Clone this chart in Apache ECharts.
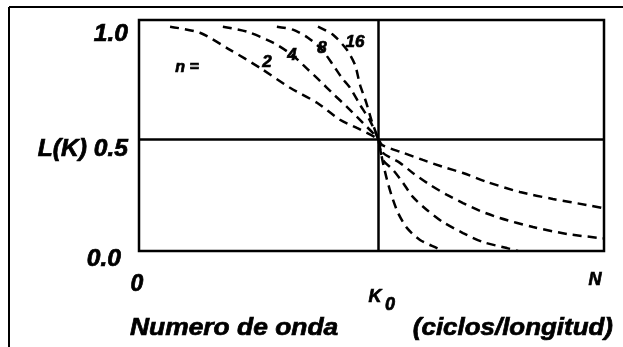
<!DOCTYPE html>
<html>
<head>
<meta charset="utf-8">
<script src="https://cdn.jsdelivr.net/npm/echarts@6/dist/echarts.min.js"></script>
<style>
  html, body { margin: 0; padding: 0; background: #fff; }
  #chart { width: 623px; height: 347px; }
</style>
</head>
<body>
<div id="chart"></div>
<script>
// Wavenumber axis: K expressed in units of the cutoff K0, running from 0 to the Nyquist value N.
const kCutoff = 1;
const kNyquist = 1.946;

// Filter orders shown, one dashed response curve each.
const filterOrders = ['2', '4', '8', '16'];

// Response L(K) for each order, as [K/K0, L] pairs.
const responseN2 = [[0.13, 1.0], [0.255, 0.973], [0.381, 0.897], [0.506, 0.817], [0.632, 0.728], [0.745, 0.661], [0.841, 0.585], [0.912, 0.549], [1, 0.5], [1.017, 0.473], [1.105, 0.438], [1.188, 0.406], [1.272, 0.375], [1.356, 0.348], [1.456, 0.308], [1.594, 0.263], [1.732, 0.232], [1.874, 0.205], [1.946, 0.19]];
const responseN4 = [[0.351, 1.0], [0.452, 0.978], [0.561, 0.929], [0.64, 0.875], [0.703, 0.813], [0.757, 0.759], [0.812, 0.701], [0.87, 0.643], [0.937, 0.571], [1, 0.5], [1.021, 0.438], [1.092, 0.393], [1.146, 0.348], [1.218, 0.295], [1.289, 0.25], [1.356, 0.214], [1.427, 0.179], [1.51, 0.147], [1.649, 0.107], [1.791, 0.076], [1.946, 0.056]];
const responseN8 = [[0.577, 1.0], [0.644, 0.987], [0.707, 0.951], [0.766, 0.897], [0.812, 0.83], [0.849, 0.772], [0.883, 0.728], [0.925, 0.652], [0.967, 0.58], [1, 0.5], [1.021, 0.406], [1.063, 0.362], [1.105, 0.304], [1.146, 0.241], [1.205, 0.183], [1.272, 0.129], [1.356, 0.08], [1.439, 0.04], [1.54, 0.013], [1.586, 0.0]];
const responseN16 = [[0.749, 1.0], [0.812, 0.964], [0.87, 0.897], [0.904, 0.83], [0.925, 0.741], [0.95, 0.665], [0.975, 0.576], [1, 0.5], [1.021, 0.393], [1.038, 0.317], [1.059, 0.241], [1.084, 0.17], [1.121, 0.103], [1.176, 0.049], [1.247, 0.013], [1.272, 0.0]];
const responses = [responseN2, responseN4, responseN8, responseN16];

// Tick labels.
const yTickValues = [1.0, 0.5, 0.0];
const yTickLabels = ['1.0', 'L(K) 0.5', '0.0'];
const xTickValues = [0, kCutoff, kNyquist];
const xTickLabels = ['0', 'K', 'N'];
const xTitle = 'Numero de onda';
const xUnits = '(ciclos/longitud)';

const FONT = '"Liberation Sans", Arial, sans-serif';
const chart = echarts.init(document.getElementById('chart'), null, { renderer: 'canvas' });

const dashed = { color: '#000', width: 2.5, type: [9, 6] };

chart.setOption({
  animation: false,
  backgroundColor: '#fff',
  grid: { left: 139, top: 20, right: 19, bottom: 96, show: true, borderColor: '#000', borderWidth: 2.5, backgroundColor: 'transparent' },
  xAxis: { type: 'value', min: 0, max: kNyquist, axisLine: { show: false }, axisTick: { show: false }, axisLabel: { show: false }, splitLine: { show: false } },
  yAxis: { type: 'value', min: 0, max: 1.03, axisLine: { show: false }, axisTick: { show: false }, axisLabel: { show: false }, splitLine: { show: false } },
  series: responses.map((pts, i) => ({
    type: 'line',
    name: 'n = ' + filterOrders[i],
    data: pts,
    showSymbol: false,
    smooth: 0.25,
    lineStyle: dashed,
    z: 3,
    markLine: i === 0 ? {
      silent: true,
      symbol: 'none',
      label: { show: false },
      lineStyle: { color: '#000', width: 2.5, type: 'solid' },
      data: [{ xAxis: kCutoff }, { yAxis: 0.5 }]
    } : undefined
  }))
});

const px = (x, y) => chart.convertToPixel({ gridIndex: 0 }, [x, y]);
// Bold italic text, with a thin outline of the same colour to give it a heavier weight.
const txt = (text, x, y, size, align, extra) => Object.assign({
  type: 'text', x: x, y: y, z: 10,
  style: { text: text, font: 'italic bold ' + size + 'px ' + FONT, fill: '#000', stroke: '#000', lineWidth: 0.7, align: align || 'center', verticalAlign: 'middle' }
}, extra || {});

const g = [];
// Outer frame (left and top edges).
g.push({ type: 'line', shape: { x1: 9, y1: 7, x2: 9, y2: 347 }, style: { stroke: '#000', lineWidth: 2 } });
g.push({ type: 'line', shape: { x1: 9, y1: 7, x2: 623, y2: 7 }, style: { stroke: '#000', lineWidth: 2 } });

// Y tick labels, set just below their level.
const yShift = [8, 11, 9];
const yRight = [128, 128, 121];
yTickValues.forEach((v, i) => {
  const p = px(0, v);
  g.push(txt(yTickLabels[i], yRight[i], p[1] + yShift[i], 23, 'right', { scaleX: 1.07 }));
});

// X tick labels.
const p0 = px(xTickValues[0], 0);
g.push(txt(xTickLabels[0], p0[0] - 2, p0[1] + 34, 23, 'center'));
const pk = px(xTickValues[1], 0);
g.push(txt(xTickLabels[1], pk[0] - 3, pk[1] + 46, 18, 'center'));
g.push(txt('0', pk[0] + 12, pk[1] + 54, 18, 'center'));
const pn = px(xTickValues[2], 0);
g.push(txt(xTickLabels[2], pn[0] - 9, pn[1] + 29, 18, 'center'));

// Axis title.
g.push(txt(xTitle, 130, 328, 24, 'left', { scaleX: 1.1 }));
g.push(txt(xUnits, 613, 328, 24, 'right', { scaleX: 1.08 }));

// Curve labels.
g.push(txt('n =', 187, 68, 16, 'center'));
const orderPos = [[267, 62], [292, 55], [322, 48], [355, 42]];
filterOrders.forEach((o, i) => g.push(txt(o, orderPos[i][0], orderPos[i][1], 17, 'center')));

chart.setOption({ graphic: g });
</script>
</body>
</html>
